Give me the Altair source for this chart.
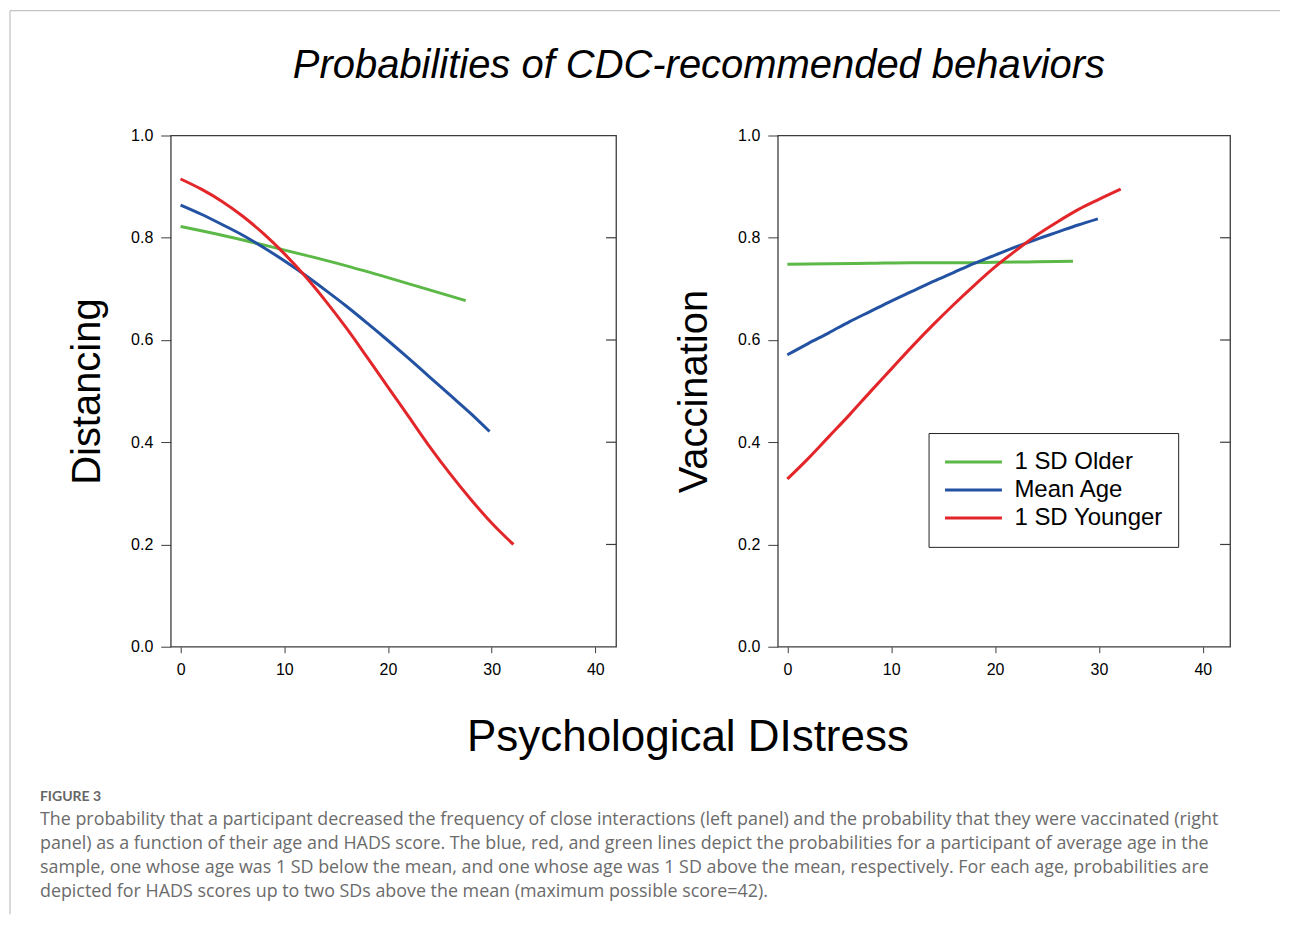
import altair as alt
import pandas as pd

# ---------------- text ----------------
TITLE = "Probabilities of CDC-recommended behaviors"
X_TITLE = "Psychological DIstress"
FIG_LABEL = "FIGURE 3"
CAPTION_LINES = [
    "The probability that a participant decreased the frequency of close interactions (left panel) and the probability that they were vaccinated (right",
    "panel) as a function of their age and HADS score. The blue, red, and green lines depict the probabilities for a participant of average age in the",
    "sample, one whose age was 1 SD below the mean, and one whose age was 1 SD above the mean, respectively. For each age, probabilities are",
    "depicted for HADS scores up to two SDs above the mean (maximum possible score=42).",
]

GROUPS = ["1 SD Older", "Mean Age", "1 SD Younger"]
COLORS = ["#5cb947", "#2352a3", "#e2262a"]

X_TICKS = [0, 10, 20, 30, 40]
Y_TICKS = [0.0, 0.2, 0.4, 0.6, 0.8, 1.0]
RIGHT_TICKS = [0.2, 0.4, 0.6, 0.8]

# ---------------- data ----------------
# Distancing panel
dist_older_x = [0, 4, 8, 12, 16, 20, 24, 27.5]
dist_older_p = [0.822, 0.805, 0.786, 0.766, 0.745, 0.722, 0.698, 0.677]
dist_mean_x = [0, 2, 4, 6, 8, 10, 12, 14, 16, 18, 20, 22, 24, 26, 28, 29.8]
dist_mean_p = [0.864, 0.846, 0.826, 0.805, 0.781, 0.755, 0.727, 0.697, 0.666,
               0.633, 0.599, 0.564, 0.528, 0.492, 0.456, 0.421]
dist_young_x = [0, 2, 4, 6, 8, 10, 12, 14, 16, 18, 20, 22, 24, 26, 28, 30, 32.1]
dist_young_p = [0.915, 0.895, 0.871, 0.842, 0.808, 0.769, 0.725, 0.676, 0.623,
                0.566, 0.508, 0.450, 0.392, 0.338, 0.288, 0.242, 0.200]

# Vaccination panel
vacc_older_x = [0, 4, 8, 12, 16, 20, 24, 27.5]
vacc_older_p = [0.748, 0.749, 0.750, 0.751, 0.751, 0.752, 0.753, 0.754]
vacc_mean_x = [0, 2, 4, 6, 8, 10, 12, 14, 16, 18, 20, 22, 24, 26, 28, 29.9]
vacc_mean_p = [0.571, 0.593, 0.614, 0.636, 0.656, 0.676, 0.695, 0.714, 0.732,
               0.750, 0.766, 0.782, 0.797, 0.811, 0.825, 0.837]
vacc_young_x = [0, 2, 4, 6, 8, 10, 12, 14, 16, 18, 20, 22, 24, 26, 28, 30, 32.1]
vacc_young_p = [0.328, 0.368, 0.411, 0.454, 0.499, 0.543, 0.587, 0.629, 0.669,
                0.707, 0.743, 0.775, 0.805, 0.831, 0.855, 0.875, 0.895]


def frame(series):
    rows = []
    for g, xs, ps in series:
        for xv, pv in zip(xs, ps):
            rows.append({"x": xv, "p": pv, "group": g})
    return pd.DataFrame(rows)


dist_df = frame([
    ("1 SD Older", dist_older_x, dist_older_p),
    ("Mean Age", dist_mean_x, dist_mean_p),
    ("1 SD Younger", dist_young_x, dist_young_p),
])
vacc_df = frame([
    ("1 SD Older", vacc_older_x, vacc_older_p),
    ("Mean Age", vacc_mean_x, vacc_mean_p),
    ("1 SD Younger", vacc_young_x, vacc_young_p),
])

FONT = "Liberation Sans"
AX = "#3c3c3c"
H = 512
WL, WR = 446, 453


def panel(df, width, xdomain, ytitle, titlex, legend):
    x_enc = alt.X(
        "x:Q",
        scale=alt.Scale(domain=xdomain, nice=False, zero=False),
        axis=alt.Axis(values=X_TICKS, format="d", title=None, grid=False, domain=False,
                      tickSize=6, tickColor=AX, tickWidth=1, labelFontSize=16, labelFont=FONT,
                      labelColor="black", labelPadding=9, labelFlush=False),
    )
    y_enc = alt.Y(
        "p:Q",
        scale=alt.Scale(domain=[0, 1], nice=False, zero=False),
        axis=alt.Axis(values=Y_TICKS, format=".1f", title=ytitle, grid=False, domain=False,
                      tickSize=10, tickColor=AX, tickWidth=1, labelFontSize=16, labelFont=FONT,
                      labelColor="black", labelPadding=8, titleFont=FONT, titleFontSize=40,
                      titleFontWeight="normal", titleColor="black", titleAngle=270,
                      titleX=titlex, titleY=H / 2, titleAlign="center", titleBaseline="middle"),
    )
    lines = alt.Chart(df).mark_line(strokeWidth=3, interpolate="monotone").encode(
        x=x_enc,
        y=y_enc,
        color=alt.Color("group:N", scale=alt.Scale(domain=GROUPS, range=COLORS), legend=legend),
    )
    rticks = alt.Chart(pd.DataFrame({"p": RIGHT_TICKS})).mark_rule(color=AX, strokeWidth=1.2).encode(
        y=y_enc, x=alt.value(width - 10), x2=alt.value(width)
    )
    return lines, rticks


leg = alt.Legend(
    orient="none", legendX=151, legendY=298, title=None, strokeColor="#222", fillColor="white",
    padding=15, symbolType="stroke", symbolSize=3249, symbolStrokeWidth=3, clipHeight=28,
    rowPadding=0, labelFont=FONT, labelFontSize=24, labelColor="black", labelOffset=11,
    symbolOpacity=1,
)

l_lines, l_ticks = panel(dist_df, WL, [-0.95, 42.0], "Distancing", -83, None)
r_lines, r_ticks = panel(vacc_df, WR, [-0.92, 42.63], "Vaccination", -83, leg)

# annotation texts placed relative to the left plot area
one = lambda col, val: pd.DataFrame({col: [val]})
title_mark = alt.Chart(one("t", TITLE)).mark_text(
    font=FONT, fontSize=40, fontStyle="italic", align="center", baseline="alphabetic", color="black"
).encode(text="t:N", x=alt.value(529), y=alt.value(-58))
xtitle_mark = alt.Chart(one("t", X_TITLE)).mark_text(
    font=FONT, fontSize=44, align="center", baseline="alphabetic", color="black"
).encode(text="t:N", x=alt.value(518), y=alt.value(616))
fig_mark = alt.Chart(one("t", FIG_LABEL)).mark_text(
    font="Lato", fontSize=14, fontWeight="bold", align="left", baseline="alphabetic", color="#666666"
).encode(text="t:N", x=alt.value(-131), y=alt.value(667))
cap_mark = alt.Chart(one("t", "\n".join(CAPTION_LINES))).mark_text(
    font="Open Sans", fontSize=17.9, align="left", baseline="alphabetic", color="#6b6b6b",
    lineBreak="\n", lineHeight=24
).encode(text="t:N", x=alt.value(-131), y=alt.value(691))
top_border = alt.Chart(one("t", 0)).mark_rule(color="#b5b5b5", strokeWidth=1).encode(
    x=alt.value(-161), x2=alt.value(1111), y=alt.value(-125)
)
left_border = alt.Chart(one("t", 0)).mark_rule(color="#b5b5b5", strokeWidth=1).encode(
    x=alt.value(-161), y=alt.value(-125), y2=alt.value(780)
)

left = alt.layer(l_lines, l_ticks, title_mark, xtitle_mark, fig_mark, cap_mark,
                 top_border, left_border).properties(width=WL, height=H)
right = alt.layer(r_lines, r_ticks).properties(width=WR, height=H)

chart = alt.hconcat(left, right, spacing=162, bounds="flush").resolve_legend(
    color="independent"
).properties(padding=0, background="white").configure_view(stroke=AX, strokeWidth=1.3)

chart.save("out.html", embed_options={"renderer": "svg", "actions": False})
